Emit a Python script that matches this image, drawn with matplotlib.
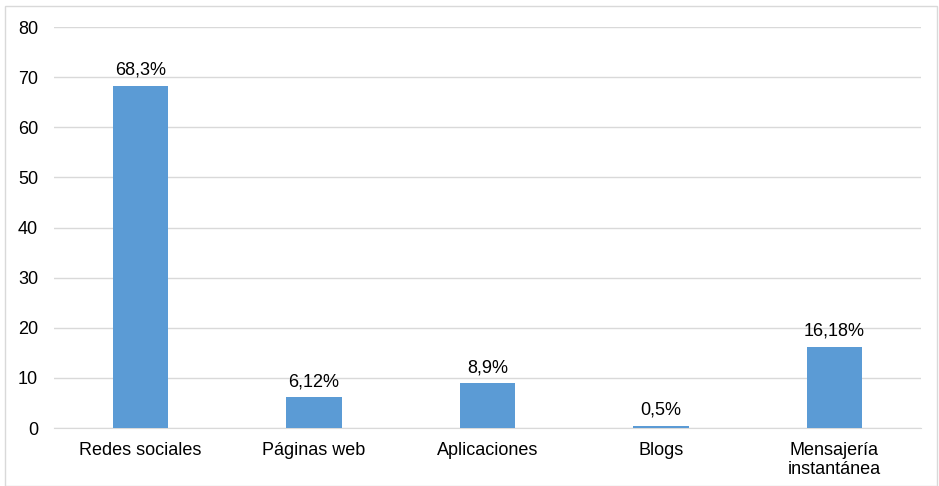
import matplotlib
matplotlib.use("Agg")
import matplotlib.pyplot as plt
from matplotlib.patches import Rectangle

# data
categories = ["Redes sociales", "Páginas web", "Aplicaciones", "Blogs", "Mensajería\ninstantánea"]
values = [68.3, 6.12, 8.9, 0.5, 16.18]
value_labels = ["68,3%", "6,12%", "8,9%", "0,5%", "16,18%"]
yticks = [0, 10, 20, 30, 40, 50, 60, 70, 80]

plt.rcParams['font.family'] = ['Liberation Sans', 'DejaVu Sans']
plt.rcParams['font.size'] = 13

fig = plt.figure(figsize=(9.39, 4.86), dpi=100)
ax = fig.add_axes([0.057, 0.1193, 0.924, 0.8251])

x = list(range(len(categories)))
bars = ax.bar(x, values, width=0.32, color="#5B9BD5", zorder=3)

for b, lab in zip(bars, value_labels):
    ax.annotate(lab, (b.get_x() + b.get_width() / 2, b.get_height()),
                xytext=(0, 5), textcoords="offset points",
                ha="center", va="bottom", color="#000000")

ax.set_xlim(-0.5, len(categories) - 0.5)
ax.set_ylim(0, 80)
ax.set_yticks(yticks)
ax.set_xticks(x)
ax.set_xticklabels(categories, linespacing=1.15)

ax.grid(axis="y", color="#D9D9D9", linewidth=1, zorder=0)
for s in ["top", "right", "left"]:
    ax.spines[s].set_visible(False)
ax.spines["bottom"].set_color("#D9D9D9")
ax.tick_params(axis="both", length=0, colors="#000000")
ax.tick_params(axis="y", pad=11)
ax.tick_params(axis="x", pad=10)

# outer chart border
border = Rectangle((5 / 939, 0.0), 932 / 939, 480 / 486, transform=fig.transFigure,
                   fill=False, edgecolor="#D9D9D9", linewidth=1)
fig.patches.append(border)

fig.savefig("out.png", dpi=100)
